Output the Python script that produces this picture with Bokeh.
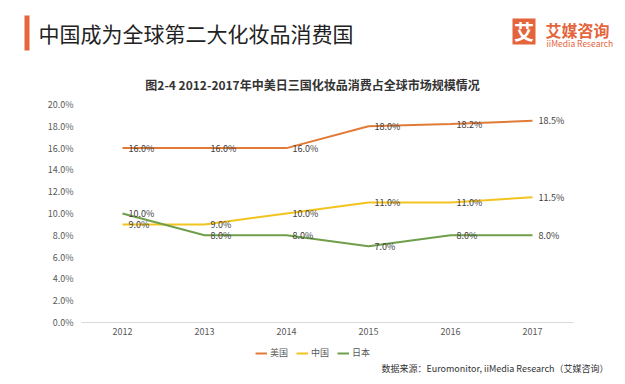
from bokeh.plotting import figure
from bokeh.layouts import column
from bokeh.core.properties import value
from bokeh.models import (ColumnDataSource, FactorRange, Range1d, FixedTicker,
                          PrintfTickFormatter, LabelSet, Label, Legend, LegendItem,
                          BoxAnnotation)
from bokeh.embed import file_html
from bokeh.resources import INLINE

# ---- data ----
years = ["2012", "2013", "2014", "2015", "2016", "2017"]
usa = [16.0, 16.0, 16.0, 18.0, 18.2, 18.5]
china = [9.0, 9.0, 10.0, 11.0, 11.0, 11.5]
japan = [10.0, 8.0, 8.0, 7.0, 8.0, 8.0]
series_names = ["美国", "中国", "日本"]
y_ticks = [0, 2, 4, 6, 8, 10, 12, 14, 16, 18, 20]

header_title = "中国成为全球第二大化妆品消费国"
chart_title = "图2-4 2012-2017年中美日三国化妆品消费占全球市场规模情况"
source_note = "数据来源：Euromonitor, iiMedia Research（艾媒咨询）"

colors = ["#E27A37", "#F3C31F", "#6F9F4A"]
FONT = "Noto Sans CJK SC"
ACCENT = "#E4643C"

W = 625
HEAD_H, MAIN_H, FOOT_H = 96, 248, 40


def blank(h):
    f = figure(width=W, height=h, x_range=Range1d(0, W), y_range=Range1d(h, 0),
               x_axis_type=None, y_axis_type=None, output_backend="svg",
               toolbar_location=None, min_border=0, frame_align=False)
    f.outline_line_color = None
    f.xgrid.grid_line_color = None
    f.ygrid.grid_line_color = None
    return f


def lab(f, x, y, text, size, color, bold=False, align="left"):
    f.add_layout(Label(x=x, y=y, text=text, text_font=FONT, text_font_size=size,
                       text_color=color, text_font_style="bold" if bold else "normal",
                       text_align=align, text_baseline="middle"))


# ---- header ----
head = blank(HEAD_H)
head.add_layout(BoxAnnotation(left=24, right=29, top=15, bottom=50,
                              fill_color=ACCENT, fill_alpha=1, line_color=None))
lab(head, 38, 32, header_title, "21px", "#222222")
head.add_layout(BoxAnnotation(left=512, right=535, top=18, bottom=44,
                              fill_color=ACCENT, fill_alpha=1, line_color=None))
lab(head, 523.5, 31, "艾", "20px", "white", bold=True, align="center")
lab(head, 545, 29, "艾媒咨询", "16px", ACCENT, bold=True)
lab(head, 546, 42, "iiMedia Research", "8.5px", ACCENT)
lab(head, 312, 84, chart_title, "12px", "#333333", bold=True, align="center")

# ---- main chart ----
p = figure(width=W, height=MAIN_H, x_range=FactorRange(*years), y_range=Range1d(0, 20),
           output_backend="svg", toolbar_location=None, frame_align=False,
           min_border_left=81, min_border_right=52, min_border_top=8, min_border_bottom=22)
p.outline_line_color = None
p.xgrid.grid_line_color = None
p.ygrid.grid_line_color = None

p.yaxis.ticker = FixedTicker(ticks=y_ticks)
p.yaxis.formatter = PrintfTickFormatter(format="%.1f%%")
p.yaxis.axis_line_color = None
p.yaxis.major_tick_line_color = None
p.yaxis.minor_tick_line_color = None
p.yaxis.major_tick_out = 0
p.yaxis.major_label_standoff = 8
p.xaxis.axis_line_color = "#D9D9D9"
p.xaxis.axis_line_width = 1
p.xaxis.major_tick_line_color = None
p.xaxis.minor_tick_line_color = None
p.xaxis.major_tick_out = 0
p.xaxis.major_label_standoff = 5
for ax in (p.xaxis, p.yaxis):
    ax.major_label_text_font = FONT
    ax.major_label_text_font_size = "9px"
    ax.major_label_text_color = "#595959"

series = list(zip(series_names, [usa, china, japan], colors))
for name, vals, col in series:
    src = ColumnDataSource(dict(year=years, val=vals, lbl=["%.1f%%" % v for v in vals]))
    p.line("year", "val", source=src, line_color=col, line_width=2)
    p.add_layout(LabelSet(x="year", y="val", text="lbl", source=src, x_offset=6,
                          text_baseline="middle", text_align="left",
                          text_font=value(FONT), text_font_size=value("9px"),
                          text_color=value("#404040")))

# ---- footer: legend + source ----
foot = blank(FOOT_H)
items = []
for name, vals, col in series:
    r = foot.line(x=list(range(len(vals))), y=vals, line_color=col, line_width=2,
                  visible=False)
    items.append(LegendItem(label=name, renderers=[r]))
legend = Legend(items=items, orientation="horizontal", location=(255, FOOT_H - 9 - 6),
                background_fill_alpha=0, border_line_color=None, padding=0, margin=0,
                spacing=6, glyph_width=12, glyph_height=12, label_height=12,
                label_standoff=3, label_text_font=FONT, label_text_font_size="9px",
                label_text_color="#595959")
foot.add_layout(legend, "center")
lab(foot, 608, 24, source_note, "9px", "#333333", align="right")

page = column(head, p, foot, spacing=0)
open("out.html", "w").write(file_html(page, INLINE))
